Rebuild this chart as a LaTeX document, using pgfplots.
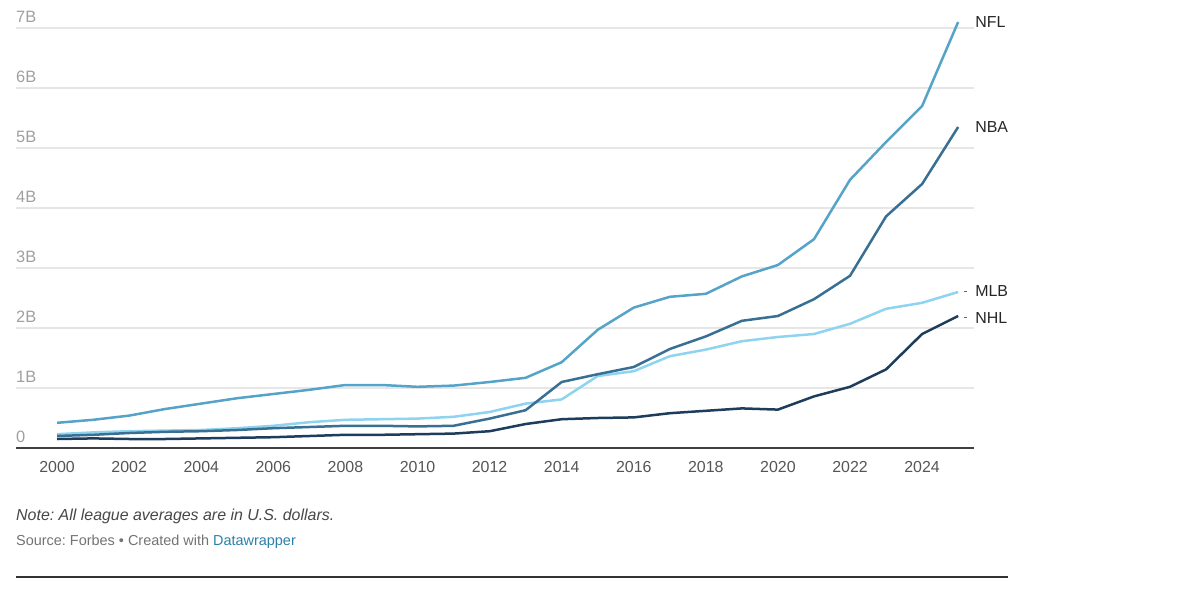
\documentclass[border=0pt]{standalone}
\usepackage{pgfplots}
\pgfplotsset{compat=1.18}
\usepackage{fontspec}
\setmainfont{Liberation Sans}
\frenchspacing

\definecolor{nfl}{HTML}{55A3C8}
\definecolor{nba}{HTML}{3A6F94}
\definecolor{mlb}{HTML}{8ED3EF}
\definecolor{nhl}{HTML}{1E3D5C}
\definecolor{gridc}{HTML}{E6E6E6}
\definecolor{ylab}{HTML}{A0A0A0}
\definecolor{xlab}{HTML}{555555}
\definecolor{dw}{HTML}{2A7FA8}

\begin{document}
\begin{tikzpicture}
\path[use as bounding box] (0bp,0bp) rectangle (1200bp,-597bp);
\begin{axis}[
  at={(16bp,-448bp)}, anchor=south west,
  scale only axis, width=958bp, height=432bp,
  xmin=1998.86, xmax=2025.44, ymin=0, ymax=7.2,
  axis line style={draw=none},
  major tick length=0pt,
  ymajorgrids, grid style={color=gridc, line width=1.2bp},
  ytick={0,1,...,7},
  yticklabels={0,1B,2B,3B,4B,5B,6B,7B},
  yticklabel style={anchor=base west, inner sep=0pt, yshift=6bp,
    font=\fontsize{16.5}{18}\selectfont, text=ylab},
  xtick={2000,2002,...,2024},
  xticklabel style={anchor=north, inner sep=0pt, yshift=-13bp,
    font=\fontsize{16}{18}\selectfont, text=xlab,
    /pgf/number format/1000 sep={}},
  /pgf/number format/assume math mode=true,
  clip=false,
  every axis plot/.style={line width=2.5bp, line join=round, no marks},
]
\draw[color=black!75, line width=2bp] (rel axis cs:0,0) -- (rel axis cs:1,0);

\addplot[nhl] coordinates {(2000,0.15) (2001,0.16) (2002,0.15) (2003,0.15) (2004,0.16) (2005,0.17) (2006,0.18) (2007,0.20) (2008,0.22) (2009,0.22) (2010,0.23) (2011,0.24) (2012,0.28) (2013,0.40) (2014,0.48) (2015,0.50) (2016,0.51) (2017,0.58) (2018,0.62) (2019,0.66) (2020,0.64) (2021,0.86) (2022,1.02) (2023,1.31) (2024,1.90) (2025,2.20)};
\addplot[mlb] coordinates {(2000,0.23) (2001,0.26) (2002,0.28) (2003,0.29) (2004,0.30) (2005,0.33) (2006,0.37) (2007,0.43) (2008,0.47) (2009,0.48) (2010,0.49) (2011,0.52) (2012,0.60) (2013,0.74) (2014,0.81) (2015,1.20) (2016,1.28) (2017,1.53) (2018,1.64) (2019,1.78) (2020,1.85) (2021,1.90) (2022,2.07) (2023,2.32) (2024,2.42) (2025,2.60)};
\addplot[nba] coordinates {(2000,0.20) (2001,0.22) (2002,0.25) (2003,0.27) (2004,0.28) (2005,0.30) (2006,0.33) (2007,0.35) (2008,0.37) (2009,0.37) (2010,0.36) (2011,0.37) (2012,0.49) (2013,0.63) (2014,1.10) (2015,1.23) (2016,1.35) (2017,1.65) (2018,1.86) (2019,2.12) (2020,2.20) (2021,2.48) (2022,2.87) (2023,3.86) (2024,4.40) (2025,5.35)};
\addplot[nfl] coordinates {(2000,0.42) (2001,0.47) (2002,0.54) (2003,0.65) (2004,0.74) (2005,0.83) (2006,0.90) (2007,0.97) (2008,1.05) (2009,1.05) (2010,1.02) (2011,1.04) (2012,1.10) (2013,1.17) (2014,1.43) (2015,1.97) (2016,2.34) (2017,2.52) (2018,2.57) (2019,2.86) (2020,3.05) (2021,3.48) (2022,4.47) (2023,5.10) (2024,5.70) (2025,7.10)};

\begin{scope}[every node/.style={anchor=west, inner sep=0pt, font=\fontsize{16}{18}\selectfont, text=black!85}]
\node at ([xshift=17bp]axis cs:2025,7.10) {NFL};
\node at ([xshift=17bp]axis cs:2025,5.35) {NBA};
\node at ([xshift=17bp]axis cs:2025,2.62) {MLB};
\node at ([xshift=17bp]axis cs:2025,2.17) {NHL};
\end{scope}
\draw[black!60, line width=1bp] ([xshift=6bp]axis cs:2025,2.61) -- ++(3bp,0bp);
\draw[black!60, line width=1bp] ([xshift=6bp]axis cs:2025,2.18) -- ++(3bp,0bp);
\end{axis}

\node[anchor=base west, inner sep=0pt, font=\fontsize{16}{18}\selectfont\itshape, text=black!72] at (16bp,-520bp) {Note: All league averages are in U.S. dollars.};
\node[anchor=base west, inner sep=0pt, font=\fontsize{14.5}{16}\selectfont, text=black!55] at (16bp,-545bp) {Source: Forbes • Created with \textcolor{dw}{Datawrapper}};
\draw[black!80, line width=1.5bp] (16bp,-577bp) -- (1008bp,-577bp);
\end{tikzpicture}
\end{document}
